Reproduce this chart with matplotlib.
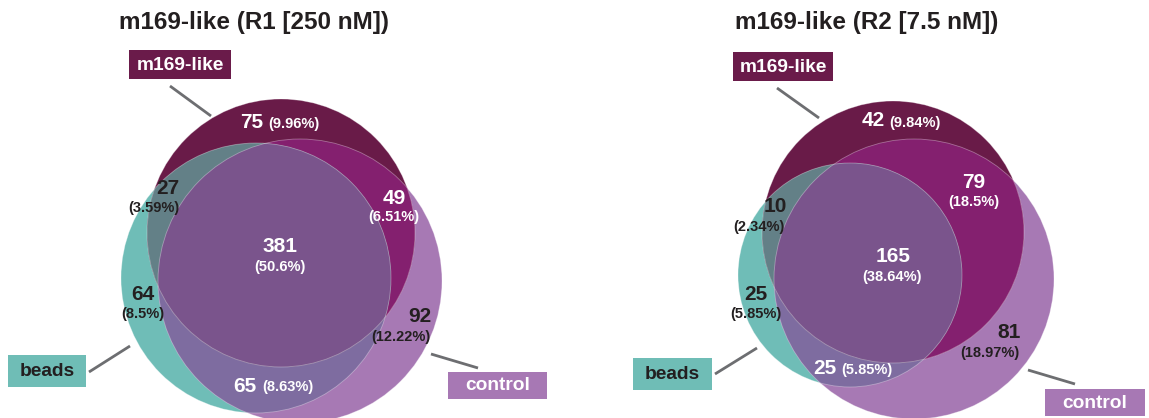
import numpy as np
import matplotlib
matplotlib.use("Agg")
import matplotlib.pyplot as plt
from matplotlib.patches import Circle, Polygon, Rectangle

plt.rcParams['font.family'] = ['Liberation Sans', 'DejaVu Sans']
plt.rcParams['font.weight'] = 'bold'

# ---- data ----
titles = ["m169-like (R1 [250 nM])", "m169-like (R2 [7.5 nM])"]
set_names = ["m169-like", "beads", "control"]
# region order: m169 only, m169&beads, m169&control, all three, beads only, control only, beads&control
region_keys = ["M", "MB", "MC", "MBC", "B", "C", "BC"]
counts_r1 = [75, 27, 49, 381, 64, 92, 65]
pcts_r1 = ["(9.96%)", "(3.59%)", "(6.51%)", "(50.6%)", "(8.5%)", "(12.22%)", "(8.63%)"]
counts_r2 = [42, 10, 79, 165, 25, 81, 25]
pcts_r2 = ["(9.84%)", "(2.34%)", "(18.5%)", "(38.64%)", "(5.85%)", "(18.97%)", "(5.85%)"]

# ---- colours ----
region_col = {"M": "#691B48", "MB": "#638087", "MC": "#84206F", "MBC": "#7A548C",
              "B": "#6FBDB7", "C": "#A779B4", "BC": "#7E6CA0"}
box_col = {"m169-like": "#6A1B4A", "beads": "#6FBDB6", "control": "#A778B4"}
dark = "#231F20"
white_txt = {"M", "MC", "MBC", "BC"}

# ---- layout (pixel coords, y down) ----
W, H = 1149, 418
charts = [
    dict(title_xy=(254, 23),
         circles={"M": (281, 233, 134), "B": (256, 278, 135), "C": (300, 281, 142)},
         boxes={"m169-like": (129, 50, 102, 29), "beads": (8, 355, 78, 32), "control": (448, 372, 99, 27)},
         leaders={"m169-like": [(170, 86), (211, 116)], "beads": [(89, 372), (130, 346)],
                  "control": [(431, 354), (478, 368)]},
         cnt_xy=[(252, 123), (168, 188), (394, 198), (280, 247), (143, 294), (420, 317), (245, 386)],
         pct_xy=[(294, 124), (154, 208), (394, 217), (280, 267), (143, 314), (401, 337), (288, 387)]),
    dict(title_xy=(867, 23),
         circles={"M": (893, 232, 131), "B": (850, 275, 112), "C": (914, 279, 140)},
         boxes={"m169-like": (733, 52, 100, 29), "beads": (633, 358, 79, 32), "control": (1045, 389, 100, 27)},
         leaders={"m169-like": [(777, 88), (819, 118)], "beads": [(715, 374), (757, 348)],
                  "control": [(1028, 370), (1075, 384)]},
         cnt_xy=[(873, 121), (775, 207), (974, 183), (893, 257), (756, 294), (1009, 333), (825, 368)],
         pct_xy=[(915, 123), (759, 227), (974, 202), (892, 277), (756, 314), (990, 353), (867, 370)]),
]
all_counts = [counts_r1, counts_r2]
all_pcts = [pcts_r1, pcts_r2]


def disc_intersection(circles, n=1500):
    # convex intersection of discs as a polygon
    pts = []
    for i, (cx, cy, r) in enumerate(circles):
        t = np.linspace(0, 2 * np.pi, n, endpoint=False)
        x = cx + r * np.cos(t)
        y = cy + r * np.sin(t)
        keep = np.ones(n, bool)
        for j, (ox, oy, orr) in enumerate(circles):
            if j != i:
                keep &= (x - ox) ** 2 + (y - oy) ** 2 <= orr ** 2 + 1e-6
        pts.append(np.column_stack([x[keep], y[keep]]))
    pts = np.vstack(pts)
    c = pts.mean(axis=0)
    ang = np.arctan2(pts[:, 1] - c[1], pts[:, 0] - c[0])
    return pts[np.argsort(ang)]


fig = plt.figure(figsize=(W / 100, H / 100), dpi=100)
ax = fig.add_axes([0, 0, 1, 1])
ax.set_xlim(0, W)
ax.set_ylim(H, 0)
ax.axis('off')

for k, ch in enumerate(charts):
    circ = ch["circles"]
    for key in ["B", "C", "M"]:
        cx, cy, r = circ[key]
        ax.add_patch(Circle((cx, cy), r, facecolor=region_col[key], edgecolor='none'))
    for key, parts in [("BC", "BC"), ("MC", "MC"), ("MB", "MB"), ("MBC", "MBC")]:
        poly = disc_intersection([circ[p] for p in parts])
        ax.add_patch(Polygon(poly, closed=True, facecolor=region_col[key], edgecolor='none'))
    for key in ["B", "C", "M"]:
        cx, cy, r = circ[key]
        ax.add_patch(Circle((cx, cy), r, facecolor='none', edgecolor='white', lw=0.6, alpha=0.35))

    ax.text(*ch["title_xy"], titles[k], ha='center', va='center', fontsize=17.5,
            fontweight='bold', color=dark)

    for name in set_names:
        x0, y0, bw, bh = ch["boxes"][name]
        ax.add_patch(Rectangle((x0, y0), bw, bh, facecolor=box_col[name], edgecolor='none'))
        ax.text(x0 + bw / 2, y0 + bh / 2 + 0.5, name, ha='center', va='center', fontsize=13.8,
                fontweight='bold', color=dark if name == "beads" else 'white')
        (xa, ya), (xb, yb) = ch["leaders"][name]
        ax.plot([xa, xb], [ya, yb], color='#6D6E71', lw=2, solid_capstyle='butt')

    for i, key in enumerate(region_keys):
        col = 'white' if key in white_txt else dark
        ax.text(*ch["cnt_xy"][i], str(all_counts[k][i]), ha='center', va='center',
                fontsize=15, fontweight='bold', color=col)
        ax.text(*ch["pct_xy"][i], all_pcts[k][i], ha='center', va='center',
                fontsize=10.5, fontweight='bold', color=col)

fig.savefig("out.png", dpi=100)
